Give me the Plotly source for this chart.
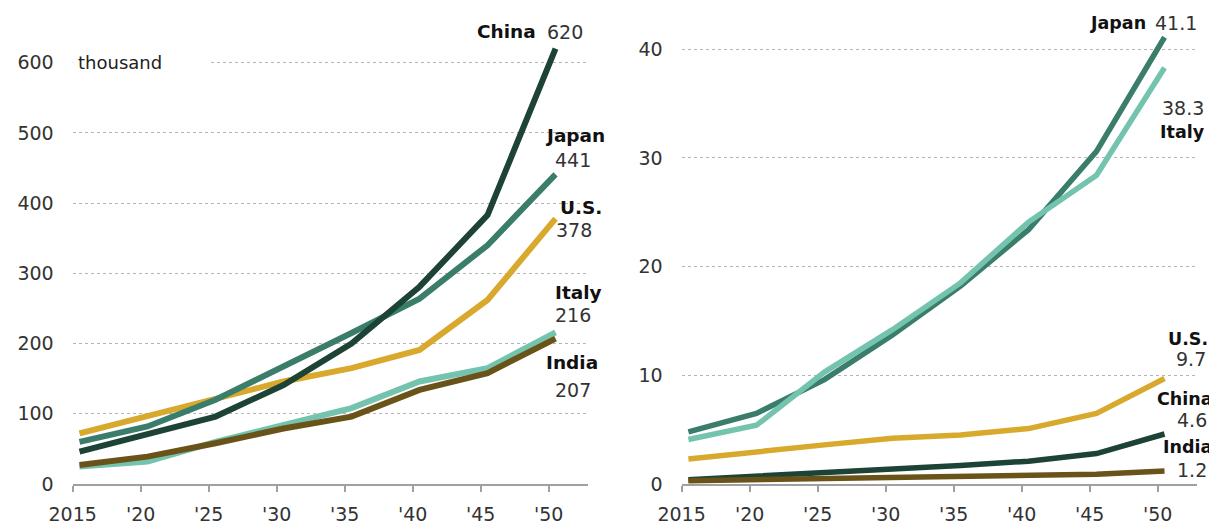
import plotly.graph_objects as go

years = [2015, 2020, 2025, 2030, 2035, 2040, 2045, 2050]
tick_labels = ["2015", "'20", "'25", "'30", "'35", "'40", "'45", "'50"]

# Left panel (thousand)
china_l = [46, 70, 96, 141, 200, 281, 383, 620]
japan_l = [60, 82, 120, 167, 215, 264, 340, 441]
us_l = [72, 96, 122, 146, 165, 191, 262, 378]
italy_l = [25, 32, 60, 84, 108, 146, 165, 216]
india_l = [27, 39, 58, 79, 96, 134, 158, 207]

# Right panel
japan_r = [4.8, 6.5, 9.6, 13.7, 18.2, 23.4, 30.6, 41.1]
italy_r = [4.1, 5.4, 10.3, 14.2, 18.5, 24.1, 28.4, 38.3]
us_r = [2.3, 3.0, 3.6, 4.2, 4.5, 5.1, 6.5, 9.7]
china_r = [0.4, 0.7, 1.0, 1.3, 1.7, 2.1, 2.8, 4.6]
india_r = [0.3, 0.4, 0.5, 0.6, 0.7, 0.8, 0.9, 1.2]

colors = {
    "China": "#1d4236",
    "Japan": "#3b7d6b",
    "Italy": "#74c3ae",
    "U.S.": "#d8a92d",
    "India": "#6a5318",
}

left_series = [("Italy", italy_l), ("U.S.", us_l), ("Japan", japan_l), ("China", china_l), ("India", india_l)]
right_series = [("Japan", japan_r), ("Italy", italy_r), ("U.S.", us_r), ("China", china_r), ("India", india_r)]

fig = go.Figure()
for name, vals in left_series:
    fig.add_trace(go.Scatter(x=years, y=vals, mode="lines", name=name,
                             line=dict(color=colors[name], width=6),
                             xaxis="x", yaxis="y", showlegend=False, hoverinfo="skip"))
for name, vals in right_series:
    fig.add_trace(go.Scatter(x=years, y=vals, mode="lines", name=name,
                             line=dict(color=colors[name], width=5.5),
                             xaxis="x2", yaxis="y2", showlegend=False, hoverinfo="skip"))

NUM_FONT = dict(family="DejaVu Sans", size=19, color="#333333")
NAME_FONT = dict(family="DejaVu Sans", size=18.5, color="#111111")
NAME_FONT_R = dict(family="DejaVu Sans", size=17.5, color="#111111")

annotations = []

def label(xref, yref, value, text, font, xanchor, xshift, yshift):
    annotations.append(dict(xref=xref, yref=yref, x=years[-1], y=value, text=text,
                            showarrow=False, font=font, xanchor=xanchor,
                            yanchor="middle", xshift=xshift, yshift=yshift))

# (name anchor, name dx, name dy, number anchor, number dx, number dy)
left_label_pos = {
    "China": ("right", -18, 17, "left", -11, 17),
    "Japan": ("left", -13, 39, "center", 17, 14),
    "U.S.": ("right", 48, 11, "center", 18, -11),
    "Italy": ("right", 48, 40, "center", 17, 17),
    "India": ("center", 16, -24, "center", 17, -51),
}
for name, vals in left_series:
    na, nx, ny, va, vx, vy = left_label_pos[name]
    label("x", "y", vals[-1], "<b>%s</b>" % name, NAME_FONT, na, nx, ny)
    label("x", "y", vals[-1], str(vals[-1]), NUM_FONT, va, vx, vy)

right_label_pos = {
    "Japan": ("right", -17, 14, "left", -12, 14),
    "Italy": ("right", 42, -64, "center", 18, -40),
    "U.S.": ("right", 45, 40, "center", 26, 20),
    "China": ("right", 50, 35, "center", 27, 14),
    "India": ("right", 49, 24, "center", 27, 1),
}
for name, vals in right_series:
    na, nx, ny, va, vx, vy = right_label_pos[name]
    label("x2", "y2", vals[-1], "<b>%s</b>" % name, NAME_FONT_R, na, nx, ny)
    label("x2", "y2", vals[-1], str(vals[-1]), NUM_FONT, va, vx, vy)

# unit label with white background hiding part of gridline
annotations.append(dict(xref="x domain", yref="y", x=0, y=600, text="thousand",
                        showarrow=False, xanchor="left", yanchor="middle", align="left",
                        width=127, bgcolor="white", borderpad=4,
                        font=dict(family="DejaVu Sans", size=18, color="#222222")))

tickvals = [y - 0.5 for y in years]

W, H = 1209, 517  # page body adds an 8px offset
xaxis_common = dict(range=[2014.5, 2052.35], tickmode="array", tickvals=tickvals, ticktext=tick_labels,
                    showgrid=False, zeroline=False, showline=True, linecolor="#a0a0a0", linewidth=1.5,
                    ticks="outside", ticklen=6, tickwidth=1.5, tickcolor="#a0a0a0",
                    tickfont=NUM_FONT, ticklabelstandoff=6, fixedrange=True, automargin=False)
yaxis_common = dict(showgrid=True, gridcolor="#b5b5b5", griddash="dot", gridwidth=1,
                    zeroline=False, showline=False, ticks="", tickfont=NUM_FONT,
                    ticklabelstandoff=18, fixedrange=True, automargin=False)

fig.update_layout(
    width=W, height=H,
    margin=dict(l=0, r=0, t=12, b=41),
    paper_bgcolor="white", plot_bgcolor="white",
    xaxis=dict(domain=[64.7 / W, 579.5 / W], anchor="y", **xaxis_common),
    xaxis2=dict(domain=[673.6 / W, 1188.5 / W], anchor="y2", **xaxis_common),
    yaxis=dict(range=[0, 660.8], tickvals=[0, 100, 200, 300, 400, 500, 600], anchor="x", **yaxis_common),
    yaxis2=dict(range=[0, 42.69], tickvals=[0, 10, 20, 30, 40], anchor="x2", **yaxis_common),
    annotations=annotations,
    showlegend=False,
)

fig.write_html("out.html")
